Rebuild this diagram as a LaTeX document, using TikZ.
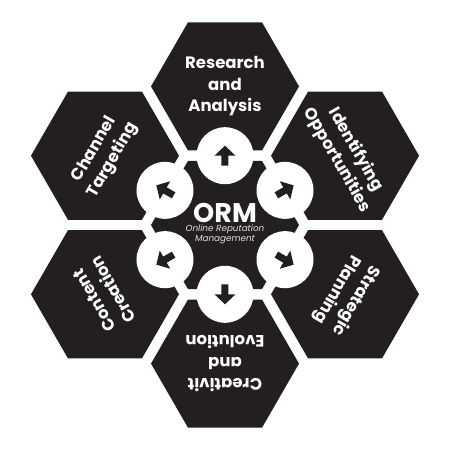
\documentclass[tikz,border=0pt]{standalone}
\usepackage{fontspec}
\setmainfont{Poppins}
\definecolor{ink}{RGB}{35,31,32}
\definecolor{subtxt}{RGB}{225,225,225}
\begin{document}
\begin{tikzpicture}[x=1pt,y=1pt,
  hexa/.style={fill=ink},
  lbl/.style={text=white, font=\fontsize{16.5}{21.5}\selectfont\bfseries, align=center, inner sep=0},
  ring/.style={circle, fill=white, minimum size=57pt, inner sep=0},
  arr/.style={fill=ink}]
\useasboundingbox (-225,-225) rectangle (225,225);
\fill[white] (-225,-225) rectangle (225,225);
% outer hexagons
\foreach \a in {90,30,-30,-90,210,150} {
  \fill[hexa, shift={(\a:138.6)}] (0:74) -- (60:74) -- (120:74) -- (180:74) -- (240:74) -- (300:74) -- cycle;
}
% central hexagon
\fill[hexa] (0:74) -- (60:74) -- (120:74) -- (180:74) -- (240:74) -- (300:74) -- cycle;
% circles with arrows
\foreach \a/\n in {90/a,30/b,-30/c,-90/d,210/e,150/f} {
  \node[ring] (r\n) at (\a:69.3) {};
  \fill[arr, shift={(r\n.center)}, rotate=\a] (10,0) -- (0,10.5) -- (0,3.5) -- (-10,3.5) -- (-10,-3.5) -- (0,-3.5) -- (0,-10.5) -- cycle;
}
% center text
\node[text=white, font=\fontsize{27}{27}\selectfont\bfseries, inner sep=0] (orm) at (0,12.5) {ORM};
\node[text=subtxt, font=\fontsize{8.8}{10}\selectfont\itshape, align=center, inner sep=0] (sub) at (0,-9.5) {Online Reputation\\Management};
% labels
\node[lbl] (la) at (90:138.6) {Research\\and\\Analysis};
\node[lbl, rotate=-60] (lb) at (30:140) {Identifying\\Opportunities};
\node[lbl, rotate=-120] (lc) at (-30:140) {Strategic\\Planning};
\node[lbl, rotate=180] (ld) at (-90:138.6) {Creativit\\and\\Evolution};
\node[lbl, rotate=120] (le) at (210:140) {Content\\Creation};
\node[lbl, rotate=60] (lf) at (150:140) {Channel\\Targeting};
\end{tikzpicture}
\end{document}
